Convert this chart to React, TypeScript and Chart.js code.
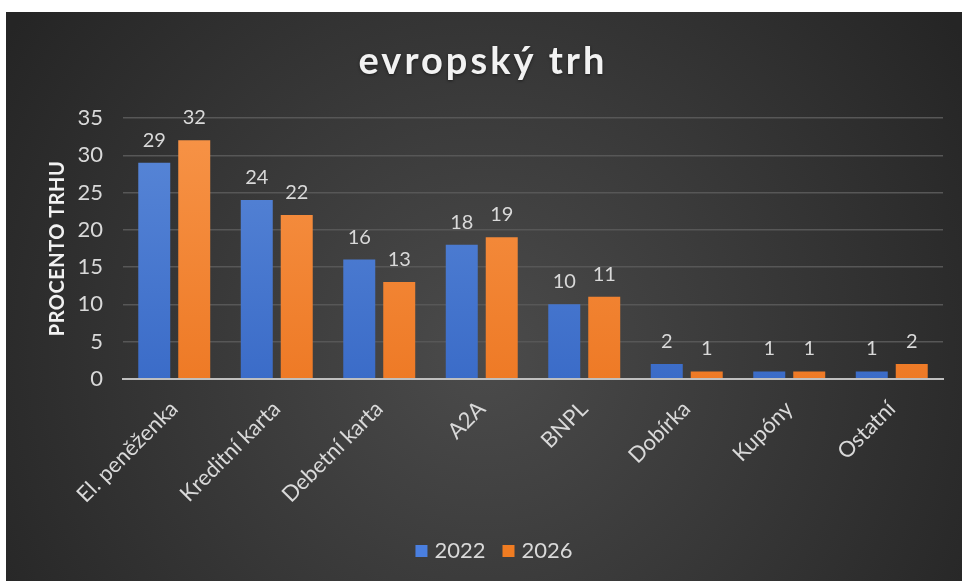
import React, { useEffect, useRef } from "react";
import { Chart, registerables } from "chart.js";

Chart.register(...registerables);

const categories = ["El. peněženka", "Kreditní karta", "Debetní karta", "A2A", "BNPL", "Dobírka", "Kupóny", "Ostatní"];
const series2022 = [29, 24, 16, 18, 10, 2, 1, 1];
const series2026 = [32, 22, 13, 19, 11, 1, 1, 2];
const seriesNames = ["2022", "2026"];
const legendColors = ["#4a7fe0", "#f07c22"];
const yTicks = [0, 5, 10, 15, 20, 25, 30, 35];
const titleText = "evropský trh";
const yTitleText = "PROCENTO TRHU";

const FONT = "Lato, 'Open Sans', sans-serif";

const bgPlugin = {
  id: "bgPlugin",
  beforeDraw(chart: any) {
    const { ctx, width, height } = chart;
    ctx.save();
    const g = ctx.createRadialGradient(width * 0.5, height * 0.6, 0, width * 0.5, height * 0.6, width * 0.6);
    g.addColorStop(0, "#4b4b4b");
    g.addColorStop(1, "#252525");
    ctx.fillStyle = g;
    ctx.fillRect(0, 0, width, height);
    ctx.restore();
  },
  afterDraw(chart: any) {
    const { ctx, width, height, chartArea } = chart;
    // title
    ctx.save();
    ctx.font = `bold 38px ${FONT}`;
    (ctx as any).letterSpacing = "3px";
    ctx.fillStyle = "#f2f2f2";
    ctx.textAlign = "center";
    ctx.textBaseline = "middle";
    ctx.shadowColor = "rgba(0,0,0,0.5)";
    ctx.shadowBlur = 3;
    ctx.shadowOffsetY = 1;
    ctx.fillText(titleText, width / 2 - 1, 50);
    ctx.restore();

    // y axis title
    ctx.save();
    ctx.font = `bold 20px ${FONT}`;
    (ctx as any).letterSpacing = "0.5px";
    ctx.fillStyle = "#f2f2f2";
    ctx.textAlign = "center";
    ctx.textBaseline = "middle";
    ctx.translate(52, (chartArea.top + chartArea.bottom) / 2);
    ctx.rotate(-Math.PI / 2);
    ctx.fillText(yTitleText, 0, 0);
    ctx.restore();

    // legend
    ctx.save();
    ctx.font = `22px ${FONT}`;
    ctx.textBaseline = "middle";
    ctx.textAlign = "left";
    const box = 12;
    const gapText = 7;
    const gapItem = 17;
    const widths = seriesNames.map((s) => ctx.measureText(s).width);
    const total = widths.reduce((a, w) => a + box + gapText + w, 0) + gapItem * (seriesNames.length - 1);
    let x = width / 2 + 10 - total / 2;
    const cy = height - 30;
    seriesNames.forEach((s, i) => {
      ctx.fillStyle = legendColors[i];
      ctx.fillRect(x, cy - box / 2, box, box);
      ctx.fillStyle = "#d9d9d9";
      ctx.fillText(s, x + box + gapText, cy);
      x += box + gapText + widths[i] + gapItem;
    });
    ctx.restore();
  },
};

const labelPlugin = {
  id: "labelPlugin",
  afterDatasetsDraw(chart: any) {
    const { ctx } = chart;
    ctx.save();
    ctx.font = `20px ${FONT}`;
    ctx.fillStyle = "#d9d9d9";
    ctx.textAlign = "center";
    ctx.textBaseline = "alphabetic";
    chart.data.datasets.forEach((ds: any, i: number) => {
      const meta = chart.getDatasetMeta(i);
      meta.data.forEach((bar: any, j: number) => {
        ctx.fillText(String(ds.data[j]), bar.x, bar.y - 16);
      });
    });
    ctx.restore();
  },
};

function grad(chart: any, top: string, bottom: string) {
  const { ctx, chartArea } = chart;
  if (!chartArea) return top;
  const g = ctx.createLinearGradient(0, chartArea.top, 0, chartArea.bottom);
  g.addColorStop(0, top);
  g.addColorStop(1, bottom);
  return g;
}

export default function App() {
  const ref = useRef<HTMLCanvasElement>(null);
  useEffect(() => {
    if (!ref.current) return;
    const chart = new Chart(ref.current, {
      type: "bar",
      data: {
        labels: categories,
        datasets: [
          {
            label: seriesNames[0],
            data: series2022,
            backgroundColor: (c: any) => grad(c.chart, "#5a88d8", "#3b6cc8"),
            categoryPercentage: 0.78,
            barPercentage: 0.8,
          },
          {
            label: seriesNames[1],
            data: series2026,
            backgroundColor: (c: any) => grad(c.chart, "#f79448", "#ee7a26"),
            categoryPercentage: 0.78,
            barPercentage: 0.8,
          },
        ],
      },
      options: {
        animation: false,
        responsive: true,
        maintainAspectRatio: false,
        layout: { padding: { left: 0, right: 19, top: 106, bottom: 64 } },
        plugins: {
          title: { display: false },
          legend: { display: false },
          tooltip: { enabled: false },
        },
        scales: {
          x: {
            grid: { display: false },
            border: { display: true, color: "#bfbfbf", width: 2 },
            ticks: {
              color: "#d9d9d9",
              font: { family: FONT, size: 22 },
              maxRotation: 45,
              minRotation: 45,
              padding: 9,
            },
          },
          y: {
            min: 0,
            max: 35,
            afterBuildTicks: (axis: any) => {
              axis.ticks = yTicks.map((v) => ({ value: v }));
            },
            afterFit: (axis: any) => {
              axis.width = 117;
            },
            grid: { color: "#575757", lineWidth: 1.5, drawTicks: false },
            border: { display: false },
            ticks: {
              color: "#d9d9d9",
              font: { family: FONT, size: 22 },
              padding: 20,
            },
          },
        },
      },
      plugins: [bgPlugin, labelPlugin],
    });
    return () => chart.destroy();
  }, []);
  return (
    <div style={{ position: "fixed", left: 6, top: 12, width: 956, height: 569 }}>
      <canvas ref={ref} />
    </div>
  );
}
